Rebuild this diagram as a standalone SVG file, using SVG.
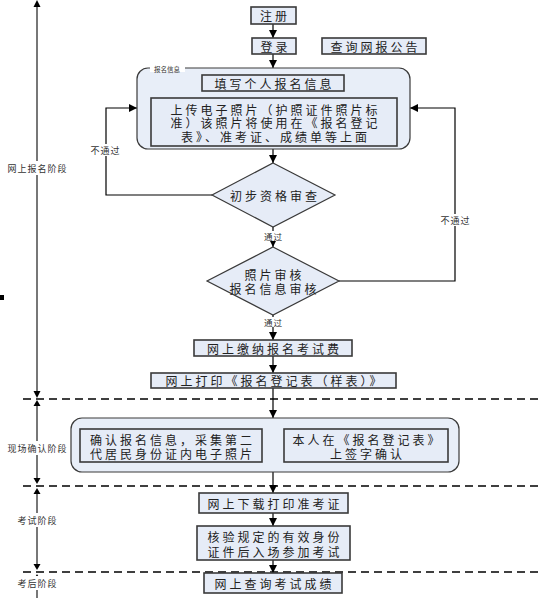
<svg xmlns="http://www.w3.org/2000/svg" width="543" height="598" viewBox="0 0 543 598">
<defs>
<marker id="ah" markerWidth="8" markerHeight="8" viewBox="0 0 8 8" refX="8" refY="4" orient="auto" markerUnits="userSpaceOnUse">
<path d="M0,0 L8,4 L0,8 Z" fill="#000"/>
</marker>
<style>
.box{fill:#e6ecf7;stroke:#3a3a3a;stroke-width:1.6}
.grp{fill:#e8eef8;stroke:#3a3a3a;stroke-width:1.2}
.dia{fill:#e6ecf7;stroke:#3a3a3a;stroke-width:1.2}
.t{font-family:"Noto Sans CJK SC","Liberation Serif",sans-serif;font-size:12px;letter-spacing:3px;fill:#222;text-anchor:middle;dominant-baseline:central}
.s{font-family:"Noto Sans CJK SC","Liberation Serif",sans-serif;font-size:9px;letter-spacing:1px;fill:#333;text-anchor:middle;dominant-baseline:central}
.xs{font-family:"Noto Sans CJK SC","Liberation Serif",sans-serif;font-size:6.5px;fill:#333;text-anchor:middle;dominant-baseline:central}
.c{fill:none;stroke:#000;stroke-width:1.2}
.axis{fill:none;stroke:#777;stroke-width:2}
.dash{fill:none;stroke:#000;stroke-width:1.4;stroke-dasharray:8 5}
.bg{fill:#fff}
</style>
</defs>
<rect width="543" height="598" fill="#fff"/>

<g id="phases">
<line class="dash" x1="23" y1="399" x2="543" y2="399"/>
<line class="dash" x1="23" y1="486" x2="543" y2="486"/>
<line class="dash" x1="23" y1="572" x2="543" y2="572"/>
<line class="axis" x1="37" y1="6" x2="37" y2="392"/>
<path d="M33.5,7 L37,0 L40.5,7 Z" fill="#000"/>
<path d="M33.5,391 L37,398 L40.5,391 Z" fill="#000"/>
<line class="axis" x1="37" y1="406" x2="37" y2="478"/>
<path d="M33.5,406 L37,400 L40.5,406 Z" fill="#000"/>
<path d="M33.5,478 L37,484 L40.5,478 Z" fill="#000"/>
<line class="axis" x1="37" y1="493" x2="37" y2="564"/>
<path d="M33.5,494 L37,488 L40.5,494 Z" fill="#000"/>
<path d="M33.5,564 L37,570 L40.5,564 Z" fill="#000"/>
<line class="axis" x1="37" y1="580" x2="37" y2="598"/>
<path d="M33.5,580 L37,574 L40.5,580 Z" fill="#000"/>
<rect x="0" y="295" width="4" height="5" fill="#000"/>
<rect class="bg" x="6" y="161" width="62" height="14"/>
<text class="s" x="37.5" y="168">网上报名阶段</text>
<rect class="bg" x="6" y="441" width="70" height="14"/>
<text class="s" x="37.5" y="448">现场确认阶段</text>
<rect class="bg" x="16" y="513" width="42" height="14"/>
<text class="s" x="37.5" y="520">考试阶段</text>
<rect class="bg" x="16" y="576" width="42" height="14"/>
<text class="s" x="37.5" y="583">考后阶段</text>
</g>

<g id="connectors">
<line class="c" x1="273" y1="24" x2="273" y2="38" marker-end="url(#ah)"/>
<line class="c" x1="273" y1="54" x2="273" y2="68" marker-end="url(#ah)"/>
<line class="c" x1="273" y1="149" x2="273" y2="163" marker-end="url(#ah)"/>
<line class="c" x1="273" y1="227" x2="273" y2="247" marker-end="url(#ah)"/>
<line class="c" x1="273" y1="315" x2="273" y2="340" marker-end="url(#ah)"/>
<line class="c" x1="273" y1="356" x2="273" y2="373" marker-end="url(#ah)"/>
<line class="c" x1="273" y1="388" x2="273" y2="418" marker-end="url(#ah)"/>
<line class="c" x1="273" y1="472" x2="273" y2="493" marker-end="url(#ah)"/>
<line class="c" x1="273" y1="513" x2="273" y2="526" marker-end="url(#ah)"/>
<line class="c" x1="273" y1="560" x2="273" y2="573" marker-end="url(#ah)"/>
<polyline class="c" points="212,195 106,195 106,108 137,108" marker-end="url(#ah)"/>
<polyline class="c" points="339,281 455,281 455,108 410,108" marker-end="url(#ah)"/>
<rect class="bg" x="89" y="144" width="32" height="12"/>
<text class="s" x="105.5" y="150">不通过</text>
<rect class="bg" x="439" y="214" width="32" height="12"/>
<text class="s" x="455.5" y="220">不通过</text>
<rect class="bg" x="262" y="231" width="22" height="10"/>
<text class="s" x="273.5" y="236" style="font-size:8.5px">通过</text>
<rect class="bg" x="262" y="317" width="22" height="10"/>
<text class="s" x="273.5" y="322" style="font-size:8.5px">通过</text>
</g>

<g id="register">
<rect class="box" x="251" y="7" width="45" height="17"/>
<text class="t" x="275" y="15.5">注册</text>
</g>
<g id="login">
<rect class="box" x="252" y="38" width="44" height="16"/>
<text class="t" x="275.5" y="46">登录</text>
</g>
<g id="notice">
<rect class="box" x="322" y="38" width="104" height="16"/>
<text class="t" x="375.5" y="46">查询网报公告</text>
</g>

<g id="info-group">
<rect class="grp" x="137" y="68" width="273" height="81" rx="11"/>
<rect class="bg" x="150" y="65" width="35" height="7"/>
<text class="xs" x="167" y="68.5">报名信息</text>
</g>
<g id="fill-info">
<rect class="box" x="202" y="75" width="142" height="16"/>
<text class="t" x="274.5" y="83">填写个人报名信息</text>
</g>
<g id="upload-photo">
<rect class="box" x="151" y="98" width="246" height="48"/>
<text class="t" x="275.5" y="109">上传电子照片（护照证件照片标</text>
<text class="t" x="275.5" y="122.5">准）该照片将使用在《报名登记</text>
<text class="t" x="275.5" y="136">表》、准考证、成绩单等上面</text>
</g>

<g id="prelim-check">
<polygon class="dia" points="273,163 335,195 273,227 212,195"/>
<text class="t" x="275" y="195">初步资格审查</text>
</g>
<g id="photo-check">
<polygon class="dia" points="273,247 339,281 273,315 207,281"/>
<text class="t" x="274.5" y="274">照片审核</text>
<text class="t" x="274.5" y="288">报名信息审核</text>
</g>

<g id="pay">
<rect class="box" x="194" y="340" width="158" height="16"/>
<text class="t" x="274.5" y="348">网上缴纳报名考试费</text>
</g>
<g id="print-form">
<rect class="box" x="151" y="373" width="245" height="15"/>
<text class="t" x="275" y="380.5">网上打印《报名登记表（样表）》</text>
</g>

<g id="onsite-group">
<rect class="grp" x="71" y="418" width="388" height="54" rx="11"/>
</g>
<g id="confirm-info">
<rect class="box" x="80" y="429" width="182" height="33"/>
<text class="t" x="172.5" y="439">确认报名信息，采集第二</text>
<text class="t" x="172.5" y="453">代居民身份证内电子照片</text>
</g>
<g id="sign">
<rect class="box" x="284" y="429" width="164" height="33"/>
<text class="t" x="367.5" y="439">本人在《报名登记表》</text>
<text class="t" x="367.5" y="453">上签字确认</text>
</g>

<g id="admit-card">
<rect class="box" x="199" y="493" width="149" height="20"/>
<text class="t" x="275" y="503.5">网上下载打印准考证</text>
</g>
<g id="verify-id">
<rect class="box" x="197" y="526" width="153" height="34"/>
<text class="t" x="275" y="536">核验规定的有效身份</text>
<text class="t" x="275" y="551">证件后入场参加考试</text>
</g>
<g id="query-score">
<rect class="box" x="204" y="573" width="138" height="20"/>
<text class="t" x="274.5" y="583">网上查询考试成绩</text>
</g>
</svg>
